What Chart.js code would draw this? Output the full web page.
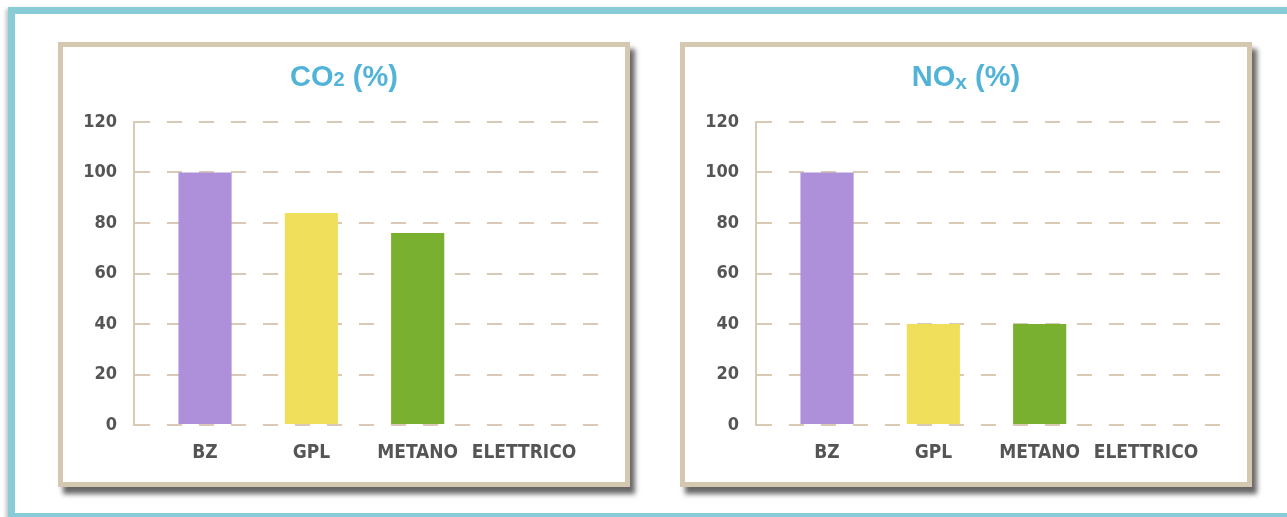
<!DOCTYPE html>
<html>
<head>
<meta charset="utf-8">
<script src="https://cdn.jsdelivr.net/npm/chart.js@4/dist/chart.umd.min.js"></script>
<style>
    html, body { margin: 0; padding: 0; background: #fff; overflow: hidden; }
    body { width: 1287px; height: 517px; position: relative; }
    .frame {
        position: absolute; left: 8px; top: 7px; width: 1400px; height: 499px;
        border: 7px solid #88ccd7; box-shadow: -2px 2px 4px rgba(0,0,0,0.25);
    }
    .panel {
        position: absolute; top: 42px; width: 562px; height: 435px;
        border: 5px solid #d5c8b1; background: #fff;
        box-shadow: 5px 7px 5px rgba(0,0,0,0.6);
    }
    .panel canvas { position: absolute; left: 0; top: 0; }
    .title {
        position: absolute; left: 0; top: 13px; width: 100%; z-index: 2;
        text-align: center; line-height: 36px; color: #52b3d8;
        font: bold 29px 'Liberation Sans', Arial, sans-serif;
    }
    .title .sub2 { font-size: 20px; }
    .title .subx { font-size: 21px; position: relative; top: 3px; }
    #panelCo2 { left: 58px; }
    #panelNox { left: 680px; }
</style>
</head>
<body>
<div class="frame"></div>
<div class="panel" id="panelCo2">
    <div class="title">CO<span class="sub2">2</span> (%)</div>
    <canvas id="chartCo2"></canvas>
</div>
<div class="panel" id="panelNox">
    <div class="title">NO<span class="subx">x</span> (%)</div>
    <canvas id="chartNox"></canvas>
</div>
<script>
var categories = ['BZ', 'GPL', 'METANO', 'ELETTRICO'];
var co2Values = [100, 84, 76, 0];
var noxValues = [100, 40, 40, 0];
var yTickValues = [0, 20, 40, 60, 80, 100, 120];

var barColors = ['#ae8fda', '#f0df5a', '#7ab030', '#999999'];
var labelFont = "'Liberation Sans Narrow', 'DejaVu Sans Condensed', 'Arial Narrow', sans-serif";

function buildEmissionChart(datasetLabel, values, elementId) {
    var canvas = document.getElementById(elementId);
    var points = values.map(function (v, i) { return { x: i, y: v }; });
    var data = {
        datasets: [{
            label: datasetLabel,
            data: points,
            backgroundColor: barColors,
            categoryPercentage: 1,
            barPercentage: 0.5
        }]
    };
    var config = {
        type: 'bar',
        data: data,
        options: {
            responsive: true,
            maintainAspectRatio: false,
            animation: false,
            layout: {
                padding: { left: 0, right: 27, top: 75, bottom: 16 }
            },
            plugins: {
                legend: {
                    display: false
                },
                tooltip: {
                    enabled: false
                }
            },
            scales: {
                x: {
                    type: 'linear',
                    offset: false,
                    min: -0.668,
                    max: 3.696,
                    grid: {
                        display: false,
                        drawTicks: false
                    },
                    border: {
                        display: false
                    },
                    afterBuildTicks: function (scale) {
                        scale.ticks = categories.map(function (c, i) { return { value: i }; });
                    },
                    afterFit: function (scale) {
                        scale.height = 41;
                    },
                    ticks: {
                        padding: 17,
                        color: '#555555',
                        maxRotation: 0,
                        autoSkip: false,
                        font: {
                            family: labelFont,
                            weight: 'bold',
                            size: 19
                        },
                        callback: function (value) {
                            return categories[value];
                        }
                    }
                },
                y: {
                    min: 0,
                    max: 120,
                    afterBuildTicks: function (scale) {
                        scale.ticks = yTickValues.map(function (v) { return { value: v }; });
                    },
                    afterFit: function (scale) {
                        scale.width = 71;
                    },
                    grid: {
                        color: '#d8cab5',
                        lineWidth: 2,
                        drawTicks: false
                    },
                    border: {
                        display: true,
                        color: '#d8cab5',
                        width: 2,
                        dash: [15, 17]
                    },
                    ticks: {
                        padding: 17,
                        color: '#555555',
                        font: {
                            family: labelFont,
                            weight: 'bold',
                            size: 18
                        }
                    }
                }
            }
        }
    };
    var chart = new Chart(canvas, config);
}

buildEmissionChart('CO2 (%)', co2Values, 'chartCo2');
buildEmissionChart('NOx (%)', noxValues, 'chartNox');
</script>
</body>
</html>
